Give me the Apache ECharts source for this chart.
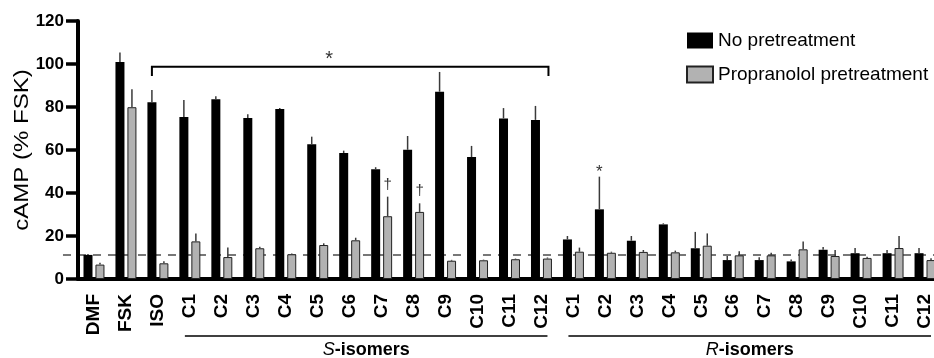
<!DOCTYPE html>
<html><head><meta charset="utf-8">
<script src="https://cdn.jsdelivr.net/npm/echarts@6/dist/echarts.min.js"></script>
<style>html,body{margin:0;padding:0;background:#fff}#c{width:934px;height:358px}</style>
</head><body><div id="c"></div>
<script>
const categories = ['DMF','FSK','ISO',
  'C1','C2','C3','C4','C5','C6','C7','C8','C9','C10','C11','C12',
  'C1','C2','C3','C4','C5','C6','C7','C8','C9','C10','C11','C12'];
const noPre    = [11.2,100.9,82.2, 75.3,83.6,74.9,79.1,62.7,58.6,51.0,60.1,87.1,56.7,74.7,74.0, 18.4,32.4,17.8,25.4,14.3,8.8,8.8,8.2,13.6,12.0,12.0,12.0];
const noPreErr = [0.4,4.4,5.7, 8.0,1.4,1.7,0.4,3.5,1.1,1.0,6.4,9.2,5.2,4.8,6.5, 1.6,15.2,2.2,0.5,7.6,1.9,1.3,0.9,1.3,2.4,1.5,2.4];
const propra    = [6.7,79.9,7.3, 17.5,10.2,14.3,11.5,15.8,18.0,29.2,31.2,8.5,8.7,9.2,9.5, 12.7,12.2,12.6,12.4,15.5,11.0,11.0,13.8,10.7,9.8,14.4,8.8];
const propraErr = [0.9,8.3,0.9, 3.7,4.4,0.7,0.4,0.8,1.2,9.1,4.0,0.4,0.3,0.3,0.5, 1.9,0.5,0.9,0.8,5.7,1.9,1.2,3.6,2.8,0.6,5.6,0.8];
const yTicks = [0,20,40,60,80,100,120];
const seriesNames = ['No pretreatment','Propranolol pretreatment'];
const yAxisTitle = 'cAMP (% FSK)';
const baselineValue = noPre[0];
const bracketLevel = 98.7, bracketDrop = 94.4;
const daggerIdx = [9,10];
const starRIdx = 16;

const FONT = "'Liberation Sans', Arial, sans-serif";
const chart = echarts.init(document.getElementById('c'), null, {renderer:'canvas'});

function errSeries(vals, errs, off) {
  return {
    type:'custom', coordinateSystem:'cartesian2d', z:5, silent:true,
    data: vals.map((v,i)=>[i, v, errs[i]]),
    encode:{x:0,y:1},
    renderItem: function(params, api){
      const p = api.coord([api.value(0), api.value(1)]);
      const t = api.coord([api.value(0), api.value(1)+api.value(2)]);
      return {type:'line', shape:{x1:p[0]+off, y1:p[1], x2:p[0]+off, y2:t[1]},
        style:{stroke:'#3a3a3a', lineWidth:1.5}};
    }
  };
}

chart.setOption({
  animation:false,
  textStyle:{fontFamily:FONT},
  grid:{left:78, right:-7, top:21, bottom:79, containLabel:false, outerBoundsMode:'none'},
  legend:{
    data:seriesNames, orient:'vertical', left:686, top:31, padding:0, itemWidth:26, itemHeight:16,
    itemGap:15, icon:'rect',
    textStyle:{fontSize:19, color:'#000', fontFamily:FONT}
  },
  xAxis:{
    type:'category', data:categories,
    axisLine:{lineStyle:{color:'#000', width:4}},
    axisTick:{alignWithLabel:true, length:12, lineStyle:{width:4, color:'#000'}},
    axisLabel:{rotate:90, margin:15, interval:0, fontSize:19, fontWeight:'bold', color:'#000', fontFamily:FONT}
  },
  yAxis:{
    type:'value', min:0, max:120, interval:20,
    axisLine:{show:true, lineStyle:{color:'#000', width:4}},
    axisTick:{show:true, length:12, lineStyle:{width:3.5, color:'#000'}},
    axisLabel:{margin:14, fontSize:17, fontWeight:'bold', color:'#000', fontFamily:FONT},
    splitLine:{show:false}
  },
  series:[
    {name:seriesNames[0], type:'bar', data:noPre, barWidth:9, barGap:'33%', z:3,
      itemStyle:{color:'#000', borderColor:'#000', borderWidth:0}},
    {name:seriesNames[1], type:'bar', data:propra, barWidth:9, z:3,
      itemStyle:{color:'#b2b2b2', borderColor:'#222', borderWidth:1}},
    errSeries(noPre, noPreErr, -6),
    errSeries(propra, propraErr, 6)
  ]
});

function px(i, v){ return chart.convertToPixel({xAxisIndex:0, yAxisIndex:0}, [i, v]); }

const g = [];
// y axis title (stretched along its length as in the reference)
const midY = (px(0,0)[1] + px(0,120)[1]) / 2;
g.push({type:'text', z:10, x:22, y:midY, rotation:Math.PI/2, scaleX:1.2,
  style:{text:yAxisTitle, font:'20px '+FONT, fill:'#000', align:'center', verticalAlign:'middle'}});
// dashed baseline (behind bars)
const b0 = px(0, baselineValue);
g.push({type:'line', z:-1, shape:{x1:b0[0]-31, y1:b0[1], x2:940, y2:b0[1]},
  style:{stroke:'#777', lineWidth:2, lineDash:[8,7]}});
// bracket
const bl = px(2, bracketLevel), br = px(14, bracketLevel), bd = px(2, bracketDrop);
const lx = bl[0]-6, rx = br[0]+7;
g.push({type:'polyline', z:10, shape:{points:[[lx,bd[1]],[lx,bl[1]],[rx,bl[1]],[rx,bd[1]]]},
  style:{stroke:'#000', lineWidth:2, fill:null}});
g.push({type:'text', z:10, x:(lx+rx)/2-21, y:bl[1]-7,
  style:{text:'*', font:'20px '+FONT, fill:'#333', align:'center', verticalAlign:'middle'}});
// daggers
daggerIdx.forEach(i=>{
  const p = px(i, propra[i]+propraErr[i]);
  g.push({type:'text', z:10, x:p[0]+6, y:p[1]-12,
    style:{text:'†', font:'15px '+FONT, fill:'#333', align:'center', verticalAlign:'middle'}});
});
// star on R C2
const sp = px(starRIdx, noPre[starRIdx]+noPreErr[starRIdx]);
g.push({type:'text', z:10, x:sp[0]-6, y:sp[1]-4,
  style:{text:'*', font:'17px '+FONT, fill:'#333', align:'center', verticalAlign:'middle'}});
// group lines and labels
const axisY = px(0,0)[1];
[[3,14,'{i|S}{b|-isomers}'],[15,26,'{i|R}{b|-isomers}']].forEach(([a,b,t])=>{
  const x1 = px(a,0)[0]-5, x2 = px(b,0)[0]+6;
  g.push({type:'line', z:10, shape:{x1:x1, y1:axisY+57, x2:x2, y2:axisY+57},
    style:{stroke:'#000', lineWidth:1.5}});
  g.push({type:'text', z:10, x:(x1+x2)/2, y:axisY+71,
    style:{text:t, align:'center', verticalAlign:'middle', fill:'#000',
      rich:{i:{fontStyle:'italic', fontSize:18, fontFamily:FONT, fill:'#000'},
            b:{fontWeight:'bold', fontSize:18, fontFamily:FONT, fill:'#000'}}}});
});
chart.setOption({graphic:g});
</script>
</body></html>
